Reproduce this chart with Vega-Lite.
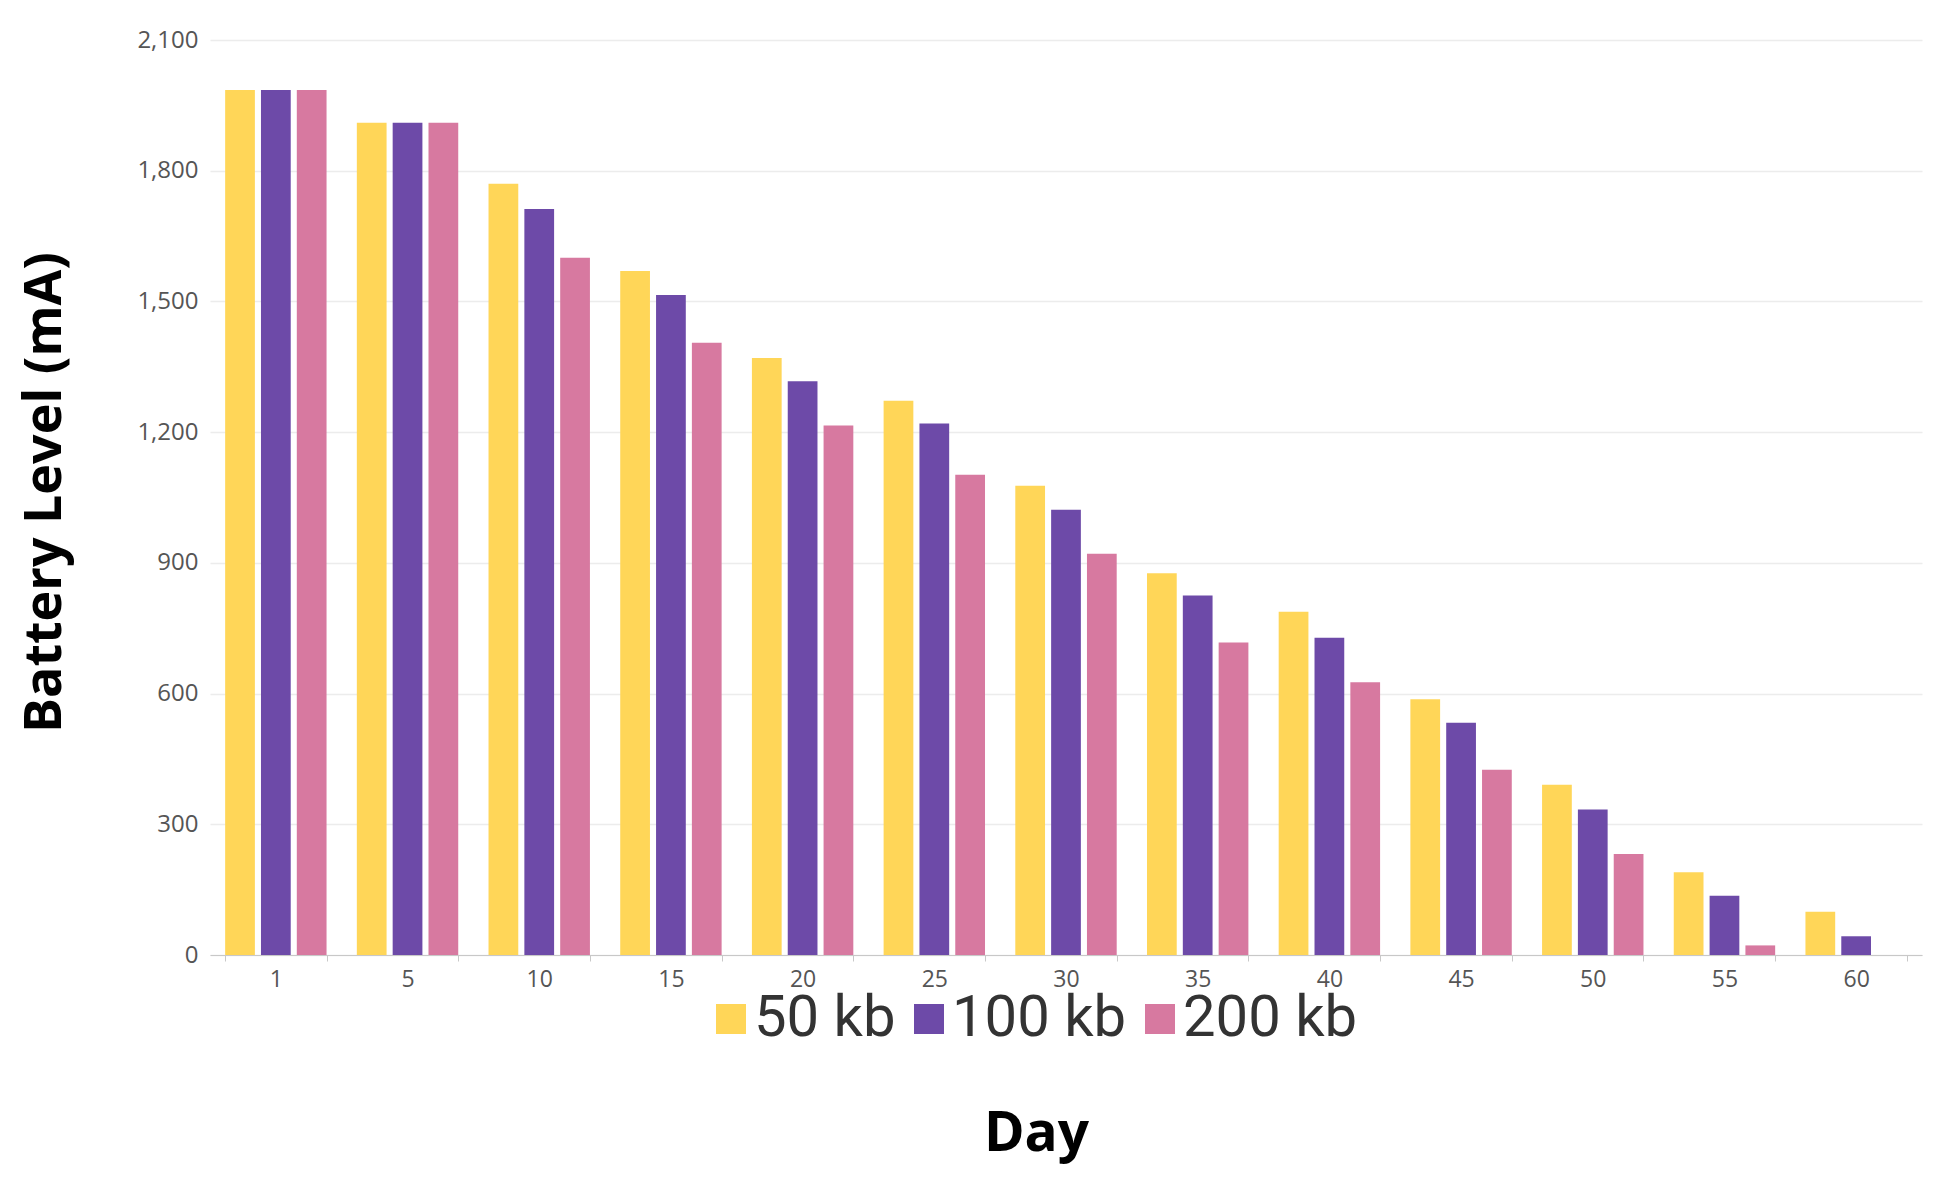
{
  "$schema": "https://vega.github.io/schema/vega-lite/v6.json",
  "width": 1712,
  "height": 915,
  "autosize": {"type": "none"},
  "padding": {"left": 210, "top": 40, "right": 16, "bottom": 228},
  "background": "white",
  "config": {"view": {"stroke": null}, "font": "Open Sans"},
  "data": {"values": [
    {"day": "1", "size": "50 kb", "level": 1985},
    {"day": "1", "size": "100 kb", "level": 1985},
    {"day": "1", "size": "200 kb", "level": 1985},
    {"day": "5", "size": "50 kb", "level": 1910},
    {"day": "5", "size": "100 kb", "level": 1910},
    {"day": "5", "size": "200 kb", "level": 1910},
    {"day": "10", "size": "50 kb", "level": 1770},
    {"day": "10", "size": "100 kb", "level": 1712},
    {"day": "10", "size": "200 kb", "level": 1600},
    {"day": "15", "size": "50 kb", "level": 1570},
    {"day": "15", "size": "100 kb", "level": 1515},
    {"day": "15", "size": "200 kb", "level": 1405},
    {"day": "20", "size": "50 kb", "level": 1370},
    {"day": "20", "size": "100 kb", "level": 1317},
    {"day": "20", "size": "200 kb", "level": 1215},
    {"day": "25", "size": "50 kb", "level": 1272},
    {"day": "25", "size": "100 kb", "level": 1220},
    {"day": "25", "size": "200 kb", "level": 1102},
    {"day": "30", "size": "50 kb", "level": 1077},
    {"day": "30", "size": "100 kb", "level": 1022},
    {"day": "30", "size": "200 kb", "level": 921},
    {"day": "35", "size": "50 kb", "level": 876},
    {"day": "35", "size": "100 kb", "level": 825},
    {"day": "35", "size": "200 kb", "level": 717},
    {"day": "40", "size": "50 kb", "level": 788},
    {"day": "40", "size": "100 kb", "level": 728},
    {"day": "40", "size": "200 kb", "level": 626},
    {"day": "45", "size": "50 kb", "level": 587},
    {"day": "45", "size": "100 kb", "level": 533},
    {"day": "45", "size": "200 kb", "level": 425},
    {"day": "50", "size": "50 kb", "level": 391},
    {"day": "50", "size": "100 kb", "level": 334},
    {"day": "50", "size": "200 kb", "level": 232},
    {"day": "55", "size": "50 kb", "level": 190},
    {"day": "55", "size": "100 kb", "level": 136},
    {"day": "55", "size": "200 kb", "level": 22},
    {"day": "60", "size": "50 kb", "level": 99},
    {"day": "60", "size": "100 kb", "level": 43},
    {"day": "60", "size": "200 kb", "level": 0}
  ]},
  "mark": {"type": "bar"},
  "encoding": {
    "x": {
      "field": "day", "type": "nominal", "sort": null,
      "scale": {"paddingInner": 0.23, "paddingOuter": 0.115},
      "axis": {
        "title": "Day", "labelAngle": 0, "tickBand": "extent",
        "domainColor": "#c8c8c8", "tickColor": "#c8c8c8", "tickSize": 6,
        "labelFont": "Open Sans", "labelFontSize": 23, "labelColor": "#555555", "labelPadding": 7,
        "titleFont": "Open Sans", "titleFontSize": 55, "titleFontWeight": "bold", "titleColor": "#000000",
        "titleX": 826, "titleY": 195, "titleAlign": "center", "titleBaseline": "alphabetic"
      }
    },
    "xOffset": {"field": "size", "type": "nominal", "sort": ["50 kb", "100 kb", "200 kb"], "scale": {"paddingInner": 0.17}},
    "y": {
      "field": "level", "type": "quantitative",
      "scale": {"domain": [0, 2100], "nice": false},
      "axis": {
        "title": "Battery Level (mA)", "values": [0, 300, 600, 900, 1200, 1500, 1800, 2100], "format": ",d",
        "domain": false, "ticks": false, "gridColor": "#ececec", "gridWidth": 1.5,
        "labelFont": "Open Sans", "labelFontSize": 24, "labelColor": "#555555", "labelPadding": 12,
        "titleFont": "Open Sans", "titleFontSize": 52, "titleFontWeight": "bold", "titleColor": "#000000",
        "titleX": -166, "titleY": 452, "titleAngle": -90, "titleAlign": "center", "titleBaseline": "middle"
      }
    },
    "color": {
      "field": "size", "type": "nominal", "sort": ["50 kb", "100 kb", "200 kb"],
      "scale": {"domain": ["50 kb", "100 kb", "200 kb"], "range": ["#FFD658", "#6D4AA8", "#D779A0"]},
      "legend": {
        "title": null, "orient": "none", "direction": "horizontal",
        "legendX": 492, "legendY": 950,
        "symbolType": "square", "symbolSize": 900, "symbolStrokeWidth": 0,
        "labelFont": "Roboto", "labelFontSize": 58, "labelColor": "#333333",
        "labelOffset": -6, "columnPadding": 4, "labelLimit": 400
      }
    }
  }
}
